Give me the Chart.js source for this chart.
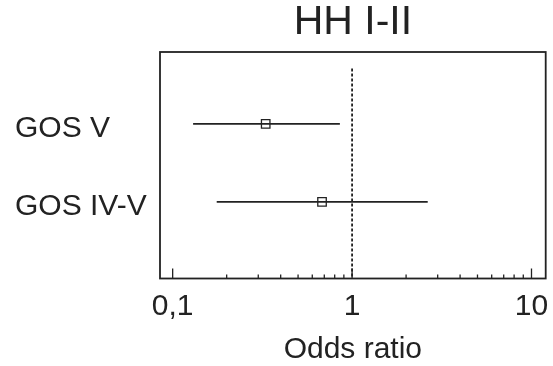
<!DOCTYPE html>
<html>
<head>
<meta charset="utf-8">
<script src="https://cdn.jsdelivr.net/npm/chart.js@4.4.1/dist/chart.umd.min.js"></script>
<style>
  html, body { margin: 0; padding: 0; background: #fff; }
  #wrap { width: 553px; height: 366px; }
</style>
</head>
<body>
<div id="wrap"><canvas id="myChart"></canvas></div>
<script>
const outcomes = ['GOS V', 'GOS IV-V'];
const oddsRatio = [0.33, 0.68];
const ciLow = [0.13, 0.176];
const ciHigh = [0.855, 2.64];
const tickValues = [0.1, 0.2, 0.3, 0.4, 0.5, 0.6, 0.7, 0.8, 0.9, 1, 2, 3, 4, 5, 6, 7, 8, 9, 10];
const tickLabels = { 0.1: '0,1', 1: '1', 10: '10' };
const noEffect = 1;

const ink = '#222';
const font = 'Liberation Sans, Arial, sans-serif';

const datasets = [];
outcomes.forEach((name, i) => {
    datasets.push({
        label: name + ' CI',
        data: [{ x: ciLow[i], y: i + 1 }, { x: ciHigh[i], y: i + 1 }],
        showLine: true,
        borderColor: ink,
        borderWidth: 1.8,
        pointRadius: 0
    });
});
datasets.push({
    label: 'no effect',
    data: [{ x: noEffect, y: 0.29 }, { x: noEffect, y: 2.98 }],
    showLine: true,
    borderColor: ink,
    borderWidth: 1.8,
    borderDash: [3, 2],
    pointRadius: 0
});
datasets.push({
    label: 'OR',
    data: oddsRatio.map((v, i) => ({ x: v, y: i + 1 })),
    pointStyle: 'rect',
    pointRadius: 6,
    backgroundColor: '#fff',
    borderColor: ink,
    borderWidth: 1.3
});

// box round the plot and small inward tick marks on the x axis
const frame = {
    id: 'frame',
    afterDatasetsDraw(chart) {
        const { ctx, chartArea: a } = chart;
        const xs = chart.scales.x;
        ctx.save();
        ctx.strokeStyle = ink;
        ctx.lineWidth = 1.8;
        ctx.strokeRect(a.left, a.top, a.right - a.left, a.bottom - a.top);
        ctx.lineWidth = 1.3;
        tickValues.forEach(v => {
            const px = xs.getPixelForValue(v);
            const len = tickLabels[v] ? 10 : 4;
            ctx.beginPath();
            ctx.moveTo(px, a.bottom);
            ctx.lineTo(px, a.bottom - len);
            ctx.stroke();
        });
        ctx.restore();
    }
};

new Chart(document.getElementById('myChart'), {
    type: 'scatter',
    data: { datasets: datasets },
    options: {
        responsive: true,
        maintainAspectRatio: false,
        animation: false,
        layout: { padding: { left: 15, right: 7, top: 0, bottom: 0 } },
        plugins: {
            legend: { display: false },
            tooltip: { enabled: false }
        },
        scales: {
            x: {
                type: 'logarithmic',
                min: 0.085,
                max: 12,
                afterBuildTicks: s => { s.ticks = tickValues.map(v => ({ value: v })); },
                afterFit: s => { s.height = 87.5; s.paddingLeft = 0; s.paddingRight = 0; },
                grid: { display: false, drawTicks: false },
                border: { display: false },
                ticks: {
                    autoSkip: false,
                    maxRotation: 0,
                    padding: 10,
                    color: ink,
                    font: { family: font, size: 30 },
                    callback: v => tickLabels[v] || ''
                },
                title: {
                    display: true,
                    text: 'Odds ratio',
                    color: ink,
                    font: { family: font, size: 30, lineHeight: 1.1 },
                    padding: { top: 0, bottom: 0 }
                }
            },
            // top axis only carries the heading, centred over the plot
            top: {
                type: 'linear',
                position: 'top',
                afterFit: s => { s.height = 52; },
                grid: { display: false, drawTicks: false },
                border: { display: false },
                ticks: { display: false },
                title: {
                    display: true,
                    text: 'HH I-II',
                    color: ink,
                    font: { family: font, size: 41, lineHeight: 1.1 },
                    padding: { top: 0, bottom: 0 }
                }
            },
            y: {
                type: 'linear',
                reverse: true,
                min: 0.08,
                max: 2.98,
                afterBuildTicks: s => { s.ticks = outcomes.map((n, i) => ({ value: i + 1 })); },
                afterFit: s => { s.width = 145; },
                grid: { display: false, drawTicks: false },
                border: { display: false },
                ticks: {
                    crossAlign: 'far',
                    labelOffset: 5,
                    color: ink,
                    font: { family: font, size: 30 },
                    callback: v => outcomes[v - 1] || ''
                }
            }
        }
    },
    plugins: [frame]
});
</script>
</body>
</html>
